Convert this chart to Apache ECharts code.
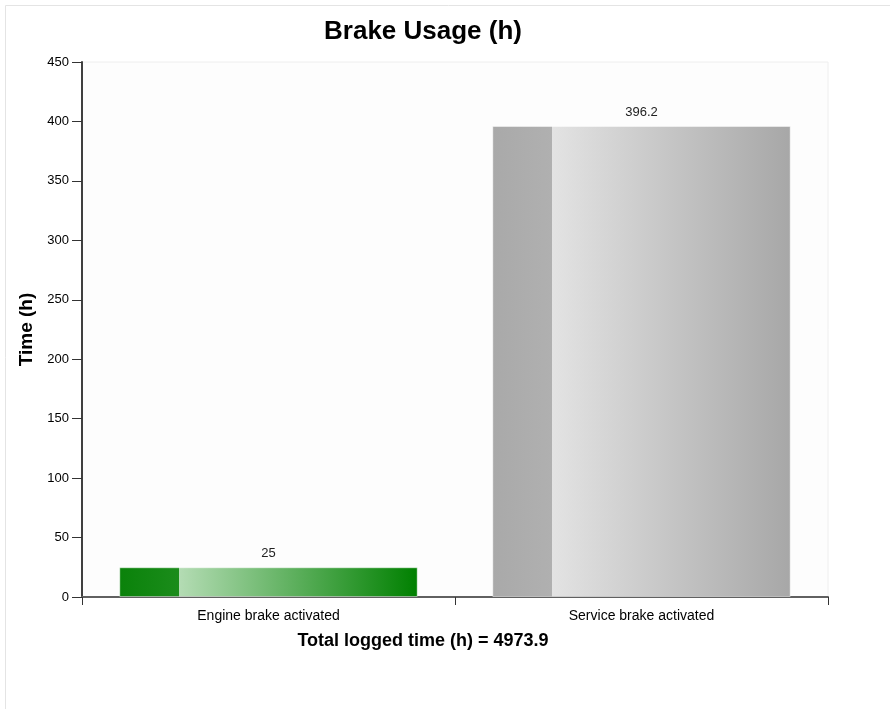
<!DOCTYPE html>
<html>
<head>
<meta charset="utf-8">
<script src="https://cdn.jsdelivr.net/npm/echarts@6/dist/echarts.min.js"></script>
<style>
html,body{margin:0;padding:0;background:#fff;}
#c{width:890px;height:709px;}
</style>
</head>
<body>
<div id="c"></div>
<script>
var categories = ['Engine brake activated', 'Service brake activated'];
var values = [25, 396.2];
var yTicks = [0, 50, 100, 150, 200, 250, 300, 350, 400, 450];
var chartTitle = 'Brake Usage (h)';
var yName = 'Time (h)';
var footer = 'Total logged time (h) = 4973.9';

var palettes = [
  ['#0a820a', '#1b8c1b', '#b4dcb4', '#008000'],
  ['#a9a9a9', '#b0b0b0', '#e3e3e3', '#a7a7a7']
];

function grad(p) {
  return new echarts.graphic.LinearGradient(0, 0, 1, 0, [
    {offset: 0, color: p[0]},
    {offset: 0.2, color: p[1]},
    {offset: 0.2, color: p[2]},
    {offset: 1, color: p[3]}
  ]);
}

var chart = echarts.init(document.getElementById('c'), null, {renderer: 'canvas'});
var font = '"Liberation Sans", Arial, sans-serif';

chart.setOption({
  animation: false,
  backgroundColor: '#ffffff',
  grid: {
    left: 82, right: 62, top: 62, bottom: 112,
    show: true, backgroundColor: '#fdfdfd', borderColor: '#eeeeee', borderWidth: 1
  },
  graphic: [
    {type: 'rect', z: -10, silent: true,
     shape: {x: 5.5, y: 5.5, width: 1000, height: 1000},
     style: {fill: 'none', stroke: '#e4e4e4', lineWidth: 1}},
    {type: 'text', x: 423, y: 32,
     style: {text: chartTitle, font: 'bold 26px ' + font, fill: '#000', textAlign: 'center', textVerticalAlign: 'middle'}},
    {type: 'text', x: 423, y: 641,
     style: {text: footer, font: 'bold 18px ' + font, fill: '#000', textAlign: 'center', textVerticalAlign: 'middle'}}
  ],
  xAxis: {
    type: 'category',
    data: categories,
    boundaryGap: true,
    axisLine: {show: true, lineStyle: {color: '#606060', width: 2}},
    axisTick: {show: true, alignWithLabel: false, length: 8, lineStyle: {color: '#333', width: 1},
      interval: function (index) { return index < categories.length; }},
    axisLabel: {color: '#000', fontSize: 14, fontFamily: font, margin: 12, interval: 0},
    splitLine: {show: false}
  },
  yAxis: {
    type: 'value',
    min: yTicks[0], max: yTicks[yTicks.length - 1], interval: yTicks[1] - yTicks[0],
    name: yName,
    nameLocation: 'middle',
    nameGap: 43,
    nameTextStyle: {color: '#000', fontSize: 19, fontWeight: 'bold', fontFamily: font},
    axisLine: {show: true, lineStyle: {color: '#404040', width: 2}},
    axisTick: {show: true, length: 10, lineStyle: {color: '#333', width: 1}},
    axisLabel: {color: '#000', fontSize: 13, fontFamily: font, margin: 13},
    splitLine: {show: false}
  },
  series: [{
    type: 'bar',
    barWidth: '80%',
    data: values.map(function (v, i) {
      return {value: v, itemStyle: {color: grad(palettes[i]), borderColor: 'rgba(255,255,255,0.45)', borderWidth: 1}};
    }),
    label: {show: true, position: 'top', distance: 7, color: '#222', fontSize: 13, fontFamily: font}
  }]
});
</script>
</body>
</html>
